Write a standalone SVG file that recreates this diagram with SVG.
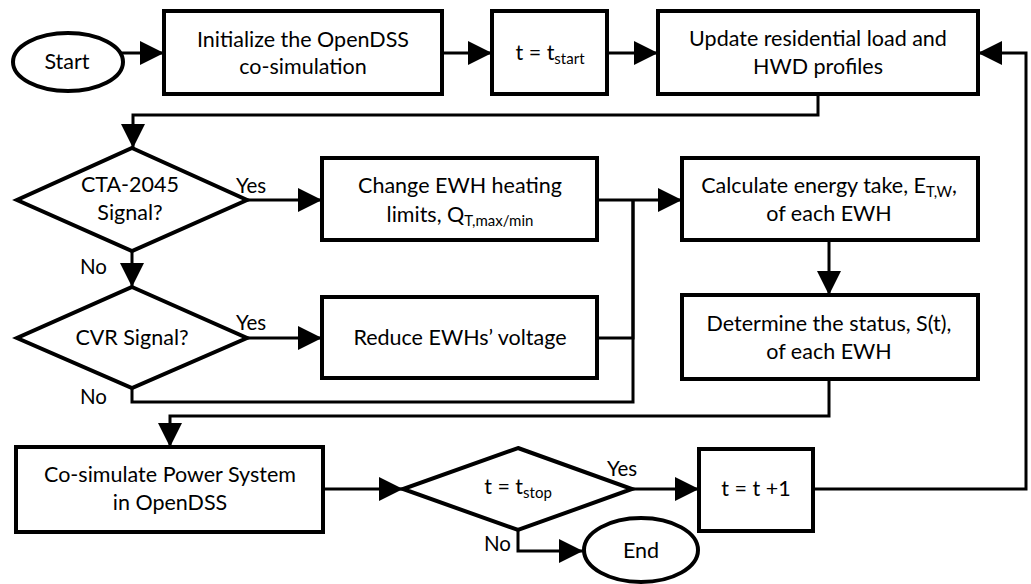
<svg xmlns="http://www.w3.org/2000/svg" width="1031" height="584" viewBox="0 0 1031 584">
<style>
.box{fill:#fff;stroke:#000;stroke-width:4}
.ln{fill:none;stroke:#000;stroke-width:3}
.t{font-family:Lato,"Open Sans","Liberation Sans",sans-serif;font-size:21.5px;fill:#000;text-anchor:middle}
.lb{font-family:Lato,"Open Sans","Liberation Sans",sans-serif;font-size:20.5px;fill:#000}
.s{font-size:15px}
</style>
<defs>
<marker id="ah" viewBox="0 0 24 24" refX="24" refY="12" markerWidth="24" markerHeight="24" markerUnits="userSpaceOnUse" orient="auto">
<path d="M0,0 L24,12 L0,24 z" fill="#000"/>
</marker>
</defs>
<rect width="1031" height="584" fill="#fff"/>
<g id="connectors">
<path class="ln" d="M120,53 H164" marker-end="url(#ah)"/>
<path class="ln" d="M442,53 H492" marker-end="url(#ah)"/>
<path class="ln" d="M607,53 H658" marker-end="url(#ah)"/>
<path class="ln" d="M818,94 V115 H133 V148" marker-end="url(#ah)"/>
<path class="ln" d="M247,200 H322" marker-end="url(#ah)"/>
<path class="ln" d="M132,250 V287" marker-end="url(#ah)"/>
<path class="ln" d="M247,338 H322" marker-end="url(#ah)"/>
<path class="ln" d="M597,200 H682" marker-end="url(#ah)"/>
<path class="ln" d="M597,338 H633 V200"/>
<path class="ln" d="M132,388 V402 H633 V200"/>
<path class="ln" d="M829,240 V295" marker-end="url(#ah)"/>
<path class="ln" d="M829,379 V416 H170 V447" marker-end="url(#ah)"/>
<path class="ln" d="M323,489 H403" marker-end="url(#ah)"/>
<path class="ln" d="M632,489 H699" marker-end="url(#ah)"/>
<path class="ln" d="M518,530 V551 H583" marker-end="url(#ah)"/>
<path class="ln" d="M813,489 H1026 V53 H978" marker-end="url(#ah)"/>
<text class="lb" x="236" y="193">Yes</text>
<text class="lb" x="80" y="274">No</text>
<text class="lb" x="236" y="330">Yes</text>
<text class="lb" x="80" y="404">No</text>
<text class="lb" x="607" y="476">Yes</text>
<text class="lb" x="484" y="551">No</text>
</g>
<g id="start">
<ellipse class="box" cx="68" cy="62" rx="55" ry="29"/>
<text class="t" x="67" y="69">Start</text>
</g>
<g id="init">
<rect class="box" x="164" y="11" width="278" height="83"/>
<text class="t" x="303" y="47">Initialize the OpenDSS</text>
<text class="t" x="303" y="74">co-simulation</text>
</g>
<g id="tstart">
<rect class="box" x="492" y="11" width="115" height="83"/>
<text class="t" x="550" y="60">t = t<tspan class="s" dy="4">start</tspan></text>
</g>
<g id="update">
<rect class="box" x="658" y="11" width="320" height="83"/>
<text class="t" x="818" y="46">Update residential load and</text>
<text class="t" x="818" y="74">HWD profiles</text>
</g>
<g id="cta">
<polygon class="box" points="132,148 247,200 132,251 17,200"/>
<text class="t" x="130" y="192">CTA-2045</text>
<text class="t" x="130" y="220">Signal?</text>
</g>
<g id="change">
<rect class="box" x="322" y="158" width="275" height="82"/>
<text class="t" x="460" y="193">Change EWH heating</text>
<text class="t" x="460" y="222">limits, Q<tspan class="s" dy="4">T,max/min</tspan></text>
</g>
<g id="cvr">
<polygon class="box" points="132,287 247,338 132,388 17,338"/>
<text class="t" x="132" y="345">CVR Signal?</text>
</g>
<g id="reduce">
<rect class="box" x="322" y="297" width="275" height="81"/>
<text class="t" x="460" y="345">Reduce EWHs’ voltage</text>
</g>
<g id="calc">
<rect class="box" x="682" y="158" width="296" height="82"/>
<text class="t" x="829" y="193">Calculate energy take, E<tspan class="s" dy="4">T,W</tspan><tspan dy="-4">,</tspan></text>
<text class="t" x="829" y="221">of each EWH</text>
</g>
<g id="determine">
<rect class="box" x="682" y="295" width="296" height="84"/>
<text class="t" x="829" y="331">Determine the status, S(t),</text>
<text class="t" x="829" y="359">of each EWH</text>
</g>
<g id="cosim">
<rect class="box" x="16" y="447" width="307" height="85"/>
<text class="t" x="170" y="482">Co-simulate Power System</text>
<text class="t" x="170" y="510">in OpenDSS</text>
</g>
<g id="tstop">
<polygon class="box" points="518,448 632,489 518,530 403,489"/>
<text class="t" x="518" y="494">t = t<tspan class="s" dy="4">stop</tspan></text>
</g>
<g id="tinc">
<rect class="box" x="699" y="449" width="114" height="82"/>
<text class="t" x="756" y="496">t = t +1</text>
</g>
<g id="end">
<ellipse class="box" cx="641" cy="550" rx="57" ry="32"/>
<text class="t" x="641" y="558">End</text>
</g>
</svg>
